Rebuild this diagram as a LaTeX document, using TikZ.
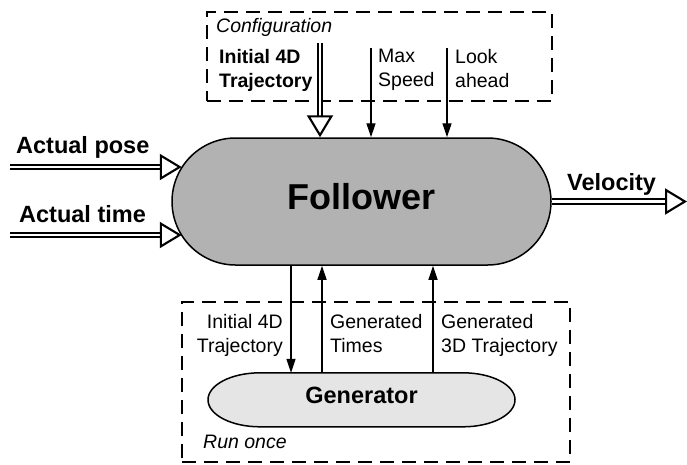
\documentclass[tikz,border=0pt]{standalone}
\usepackage{fontspec}
\setmainfont{Liberation Sans}
\usetikzlibrary{arrows.meta,calc,backgrounds}
\tikzset{
  blob/.style={draw, line width=1.5pt, inner sep=0pt},
  dashbox/.style={draw, line width=1.4pt, dash pattern=on 14pt off 8pt, inner sep=0pt},
  arr/.style={line width=1.3pt, -{Triangle[length=14pt,width=9pt]}},
  dblarrow/.style={double, double distance=2.6pt, line width=2.1pt, -{Triangle[open,length=22pt,width=26pt,line width=2.1pt]}},
  lbl/.style={font=\fontsize{19.5}{24}\selectfont, inner sep=0pt},
  biglbl/.style={font=\fontsize{23.5}{28}\selectfont\bfseries, inner sep=0pt}
}
\begin{document}
\begin{tikzpicture}[x=1pt,y=-1pt]
\useasboundingbox (0,0) rectangle (687,464);
\node[dashbox, minimum width=345pt, minimum height=89pt] (cfg) at (379.5,56.5) {};
\node[dashbox, minimum width=388pt, minimum height=160pt] (run) at (376,382) {};
\node[blob, fill=black!30, minimum width=379pt, minimum height=127pt, rounded corners=63.5pt,
  font=\fontsize{36}{40}\selectfont\bfseries, text depth=10pt] (fol) at (361.5,201.5) {Follower};
\node[inner sep=0pt, minimum width=307pt, minimum height=54pt,
  font=\fontsize{23.5}{28}\selectfont\bfseries, text depth=9pt] (gen) at (361.5,400) {Generator};
\begin{pgfonlayer}{background}
\draw[line width=1.5pt, fill=black!10] ($(gen.north)+(-101.5,0)$) -- ++(203,0)
  arc[start angle=-90, end angle=90, x radius=52, y radius=27] -- ++(-203,0)
  arc[start angle=90, end angle=270, x radius=52, y radius=27] -- cycle;
\end{pgfonlayer}
\node[lbl, anchor=north west, font=\fontsize{19.5}{24}\selectfont\itshape] (cfgtitle) at (216,18) {Configuration};
\node[lbl, anchor=north west, align=left, font=\fontsize{19.5}{24}\selectfont\bfseries] (initlbl) at (219,49) {Initial 4D\\Trajectory};
\node[lbl, anchor=north west, align=left] (mslbl) at (378,49) {Max\\Speed};
\node[lbl, anchor=north west, align=left] (lalbl) at (455,49) {Look\\ahead};
\node[biglbl, anchor=base west] (poselbl) at (16,153) {Actual pose};
\node[biglbl, anchor=base west] (timelbl) at (19,222) {Actual time};
\node[biglbl, anchor=base west] (vellbl) at (567,190) {Velocity};
\node[lbl, anchor=north east, align=right] (downlbl) at (283,314) {Initial 4D\\Trajectory};
\node[lbl, anchor=north west, align=left] (timeslbl) at (330,314) {Generated\\Times};
\node[lbl, anchor=north west, align=left] (trajlbl) at (441,314) {Generated\\3D Trajectory};
\node[lbl, anchor=base west, font=\fontsize{19.5}{24}\selectfont\itshape] (runlbl) at (203,448) {Run once};
\coordinate (init) at (320,43);
\coordinate (ms) at (371,48);
\coordinate (la) at (447,48);
\coordinate (pose) at (10,167);
\coordinate (time) at (10,235);
\coordinate (vel) at (687,201.5);
\coordinate (poseend) at ($(fol.west)+(10.5,-34.5)$);
\coordinate (timeend) at ($(fol.west)+(10.5,33.5)$);
\draw[dblarrow] (init) -- (init |- fol.north);
\draw[arr] (ms) -- (ms |- fol.north);
\draw[arr] (la) -- (la |- fol.north);
\draw[dblarrow] (pose) -- (poseend);
\draw[dblarrow] (time) -- (timeend);
\draw[dblarrow] (fol.east) -- (vel);
\draw[arr] ($(fol.south)+(-70.5,0)$) -- ($(gen.north)+(-70.5,0)$);
\draw[arr] ($(gen.north)+(-39.5,0)$) -- ($(fol.south)+(-39.5,0)$);
\draw[arr] ($(gen.north)+(71.5,0)$) -- ($(fol.south)+(71.5,0)$);
\end{tikzpicture}
\end{document}
